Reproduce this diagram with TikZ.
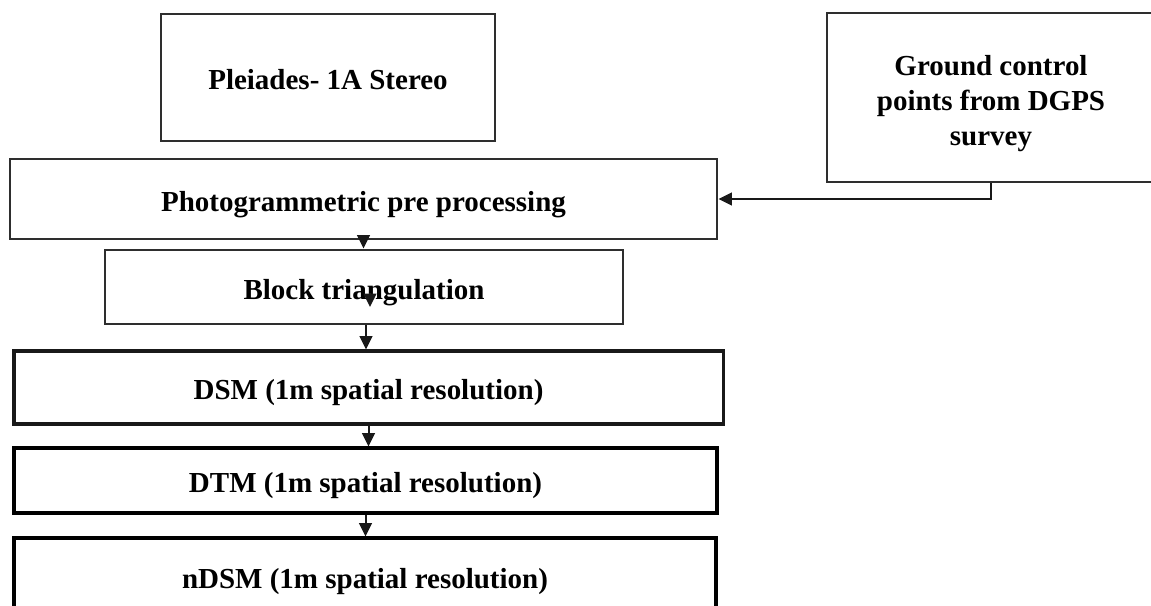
\documentclass[tikz,border=0pt]{standalone}
\usepackage{fontspec}
\setmainfont{Liberation Serif}
\usetikzlibrary{calc,arrows.meta}

\tikzset{
  box/.style={draw=black!82, line width=2.5pt, rectangle, inner sep=0pt, align=center,
    text height=26pt, text depth=5.4pt,
    font=\bfseries\fontsize{24.75}{29.9}\selectfont},
  boxdark/.style={box, draw=black, line width=2.8pt},
  arr/.style={draw=black!90, line width=1.7pt, -{Triangle[length=0.4cm,width=0.38cm]}}
}

\begin{document}
\begin{tikzpicture}[x=0.03cm,y=-0.03cm]
\useasboundingbox (0,0) rectangle (1151,605);
\clip (0,0) rectangle (1151,605);

% inputs
\node[box, minimum width=10.02cm, minimum height=3.81cm] (plei) at (328,77.5) {Pleiades- 1A Stereo};
\node[box, text height=, text depth=, minimum width=9.84cm, minimum height=5.07cm] (gcp) at (991,97.5)
  {\rule{0pt}{27pt}Ground control\\points from DGPS\\survey};

% processing chain
\node[box, minimum width=21.21cm, minimum height=2.4cm] (photo) at (363.5,199) {Photogrammetric pre processing};
\node[box, minimum width=15.54cm, minimum height=2.22cm] (block) at (364,287) {Block triangulation};
\node[box, draw=black!90, line width=2.6pt, minimum width=21.27cm, minimum height=2.19cm] (dsm) at (368.5,387.5) {DSM (1m spatial resolution)};
\node[boxdark, minimum width=21.09cm, minimum height=1.95cm] (dtm) at (365.5,480.5) {DTM (1m spatial resolution)};
\node[boxdark, minimum width=21.06cm, minimum height=2.28cm] (ndsm) at (365,576) {nDSM (1m spatial resolution)};

\coordinate (stray) at (370,307);

\draw[arr] (gcp.south) |- (photo.east);
\draw[arr] (photo.south) -- (photo.south |- block.north);
\draw[arr] ($(stray)+(0,-14)$) -- (stray); % head left inside the box
\draw[arr] ([xshift=0.06cm]block.south) -- ([xshift=0.06cm]block.south |- dsm.north);
\draw[arr] (dsm.south) -- (dsm.south |- dtm.north);
\draw[arr] (dtm.south) -- (dtm.south |- ndsm.north);
\end{tikzpicture}
\end{document}
